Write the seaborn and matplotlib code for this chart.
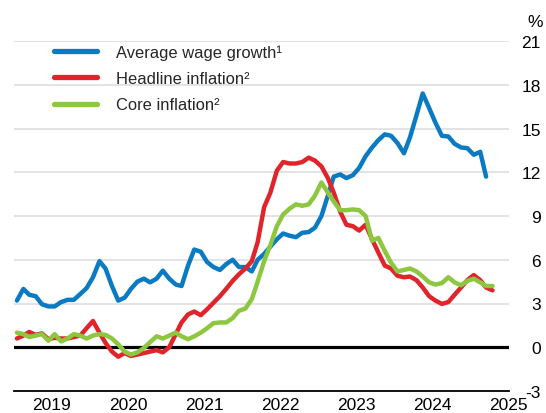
import numpy as np
import pandas as pd
import matplotlib
matplotlib.use("Agg")
import matplotlib.pyplot as plt
import matplotlib.dates as mdates
from matplotlib.ticker import FuncFormatter, NullFormatter
import seaborn as sns

# monthly values, Jan 2019 onwards (%)
wage_growth = [3.2, 4.0, 3.6, 3.5, 2.95, 2.8, 2.8, 3.1, 3.25, 3.25, 3.65, 4.05,
               4.8, 5.9, 5.4, 4.2, 3.2, 3.4, 4.0, 4.5, 4.7, 4.45, 4.7, 5.25,
               4.7, 4.3, 4.2, 5.6, 6.7, 6.55, 5.85, 5.5, 5.3, 5.7, 6.0, 5.5,
               5.5, 5.2, 6.0, 6.4, 6.9, 7.4, 7.8, 7.65, 7.55, 7.85, 7.9, 8.2,
               9.0, 10.4, 11.7, 11.85, 11.6, 11.8, 12.3, 13.1, 13.7, 14.2, 14.6, 14.5,
               14.0, 13.3, 14.4, 15.9, 17.4, 16.4, 15.4, 14.5, 14.45, 13.95, 13.7, 13.65,
               13.2, 13.4, 11.7]
headline = [0.6, 0.8, 1.05, 0.85, 0.95, 0.55, 0.65, 0.6, 0.6, 0.7, 0.8, 1.3,
            1.8, 1.0, 0.3, -0.3, -0.65, -0.4, -0.6, -0.5, -0.4, -0.3, -0.2, -0.35,
            0.0, 0.9, 1.7, 2.25, 2.45, 2.2, 2.6, 3.05, 3.5, 4.0, 4.55, 5.0,
            5.4, 5.9, 7.2, 9.6, 10.6, 12.1, 12.7, 12.6, 12.6, 12.7, 13.0, 12.8,
            12.4, 11.6, 10.6, 9.3, 8.4, 8.3, 8.0, 8.4, 7.4, 6.5, 5.6, 5.4,
            4.9, 4.8, 4.85, 4.6, 4.1, 3.5, 3.2, 2.97, 3.1, 3.6, 4.1, 4.6,
            4.95, 4.6, 4.1, 3.9]
core = [1.0, 0.9, 0.7, 0.8, 0.9, 0.45, 0.9, 0.4, 0.6, 0.9, 0.8, 0.6,
        0.8, 0.9, 0.85, 0.6, 0.2, -0.3, -0.5, -0.35, -0.05, 0.35, 0.75, 0.6,
        0.8, 1.0, 0.75, 0.55, 0.75, 1.0, 1.3, 1.65, 1.7, 1.7, 2.0, 2.5,
        2.65, 3.3, 4.5, 5.9, 7.0, 8.3, 9.1, 9.5, 9.8, 9.7, 9.8, 10.4,
        11.3, 10.6, 10.0, 9.4, 9.4, 9.45, 9.4, 9.0, 7.3, 7.5, 6.6, 5.8,
        5.2, 5.3, 5.4, 5.2, 4.85, 4.45, 4.3, 4.4, 4.8, 4.45, 4.25, 4.55,
        4.7, 4.45, 4.2, 4.2]

labels = ["Average wage growth\u00b9", "Headline inflation\u00b2", "Core inflation\u00b2"]
colors = ["#0a7bc2", "#e0242c", "#8dc63f"]
yticks = list(range(-3, 22, 3))

frames = []
for name, vals in zip(labels, [wage_growth, headline, core]):
    dates = pd.date_range("2019-01-01", periods=len(vals), freq="MS") + pd.Timedelta(days=14)
    frames.append(pd.DataFrame({"date": dates, "value": vals, "series": name}))
df = pd.concat(frames, ignore_index=True)

sns.set_theme(style="white")
plt.rcParams["font.family"] = ["Liberation Sans", "DejaVu Sans"]

fig = plt.figure(figsize=(5.46, 4.14), dpi=100)
ax = fig.add_axes([14 / 546, 1 - 392 / 414, 495 / 546, 350 / 414])

ax.axhline(0, color="black", lw=2.3, zorder=1)
sns.lineplot(data=df, x="date", y="value", hue="series", hue_order=labels,
             palette=dict(zip(labels, colors)), linewidth=3.2, ax=ax, zorder=2)

ax.set_xlim(pd.Timestamp("2019-01-01"), pd.Timestamp("2025-07-03"))
ax.set_ylim(-3, 21)
ax.set_xlabel("")
ax.set_ylabel("")

# y axis on the right, no tick marks
ax.yaxis.tick_right()
ax.set_yticks(yticks)
ax.set_yticklabels([str(t) for t in yticks])
ax.tick_params(axis="y", length=0, pad=23, labelsize=12.5, labelcolor="black")
plt.setp(ax.get_yticklabels(), ha="right")
ax.grid(axis="y", color="#dedede", lw=1.2)
ax.set_axisbelow(True)
ax.text(1.068, 1.057, "%", transform=ax.transAxes, ha="right", va="center",
        fontsize=12.5, color="black")

# x axis: year ticks, quarter ticks, labels at mid-year
ax.xaxis.set_major_locator(mdates.YearLocator())
ax.xaxis.set_minor_locator(mdates.MonthLocator(bymonth=[1, 4, 7, 10]))
ax.xaxis.set_major_formatter(NullFormatter())
ax.xaxis.set_minor_formatter(FuncFormatter(
    lambda x, pos: str(mdates.num2date(x).year) if mdates.num2date(x).month == 7 else ""))
ax.tick_params(axis="x", which="major", direction="in", length=6, width=1.2, color="black")
ax.tick_params(axis="x", which="minor", direction="in", length=3, width=1.2, color="black",
               pad=4.5, labelsize=12.5, labelcolor="black")

for s in ["top", "left", "right"]:
    ax.spines[s].set_visible(False)
ax.spines["bottom"].set_color("black")
ax.spines["bottom"].set_linewidth(1.3)

handles, labs = ax.get_legend_handles_labels()
leg = ax.legend(handles, labs, loc="upper left", bbox_to_anchor=(0.081, 0.99),
                frameon=False, fontsize=11.9, handlelength=2.6, handletextpad=1.15,
                labelspacing=0.68, borderpad=0, borderaxespad=0)
for line in leg.get_lines():
    line.set_linewidth(3.8)

fig.savefig("out.png", dpi=100)
